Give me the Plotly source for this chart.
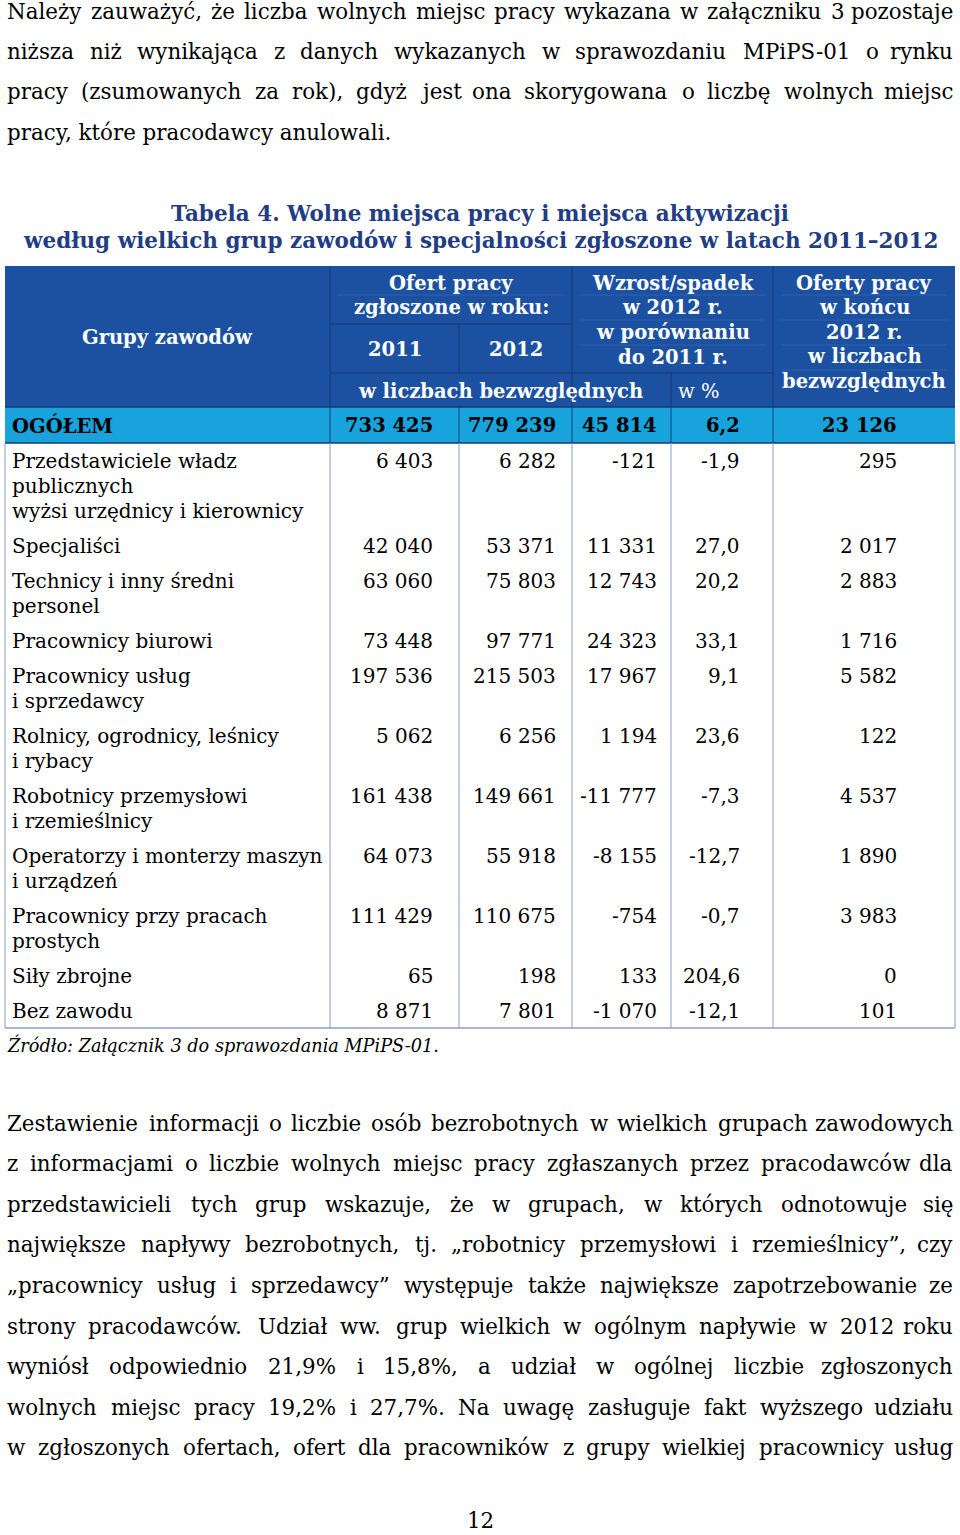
import plotly.graph_objects as go

# ---- data -------------------------------------------------------------
groups = [
    "Przedstawiciele władz<br>publicznych<br>wyżsi urzędnicy i kierownicy",
    "Specjaliści",
    "Technicy i inny średni<br>personel",
    "Pracownicy biurowi",
    "Pracownicy usług<br>i sprzedawcy",
    "Rolnicy, ogrodnicy, leśnicy<br>i rybacy",
    "Robotnicy przemysłowi<br>i rzemieślnicy",
    "Operatorzy i monterzy maszyn<br>i urządzeń",
    "Pracownicy przy pracach<br>prostych",
    "Siły zbrojne",
    "Bez zawodu",
]
offers_2011 = [6403, 42040, 63060, 73448, 197536, 5062, 161438, 64073, 111429, 65, 8871]
offers_2012 = [6282, 53371, 75803, 97771, 215503, 6256, 149661, 55918, 110675, 198, 7801]
change_abs = [-121, 11331, 12743, 24323, 17967, 1194, -11777, -8155, -754, 133, -1070]
change_pct = [-1.9, 27.0, 20.2, 33.1, 9.1, 23.6, -7.3, -12.7, -0.7, 204.6, -12.1]
offers_end_2012 = [295, 2017, 2883, 1716, 5582, 122, 4537, 1890, 3983, 0, 101]

total_label = "OGÓŁEM"
total_values = [733425, 779239, 45814, 6.2, 23126]

title_lines = [
    "Tabela 4. Wolne miejsca pracy i miejsca aktywizacji",
    "według wielkich grup zawodów i specjalności zgłoszone w latach 2011–2012",
]
source_note = "Źródło: Załącznik 3 do sprawozdania MPiPS-01."

para_top = [
    "Należy zauważyć, że liczba wolnych miejsc pracy wykazana w załączniku 3 pozostaje",
    "niższa niż wynikająca z danych wykazanych w sprawozdaniu MPiPS-01 o rynku",
    "pracy (zsumowanych za rok), gdyż jest ona skorygowana o liczbę wolnych miejsc",
    "pracy, które pracodawcy anulowali.",
]
para_bottom = [
    "Zestawienie informacji o liczbie osób bezrobotnych w wielkich grupach zawodowych",
    "z informacjami o liczbie wolnych miejsc pracy zgłaszanych przez pracodawców dla",
    "przedstawicieli tych grup wskazuje, że w grupach, w których odnotowuje się",
    "największe napływy bezrobotnych, tj. „robotnicy przemysłowi i rzemieślnicy”, czy",
    "„pracownicy usług i sprzedawcy” występuje także największe zapotrzebowanie ze",
    "strony pracodawców. Udział ww. grup wielkich w ogólnym napływie w 2012 roku",
    "wyniósł odpowiednio 21,9% i 15,8%, a udział w ogólnej liczbie zgłoszonych",
    "wolnych miejsc pracy 19,2% i 27,7%. Na uwagę zasługuje fakt wyższego udziału",
    "w zgłoszonych ofertach, ofert dla pracowników z grupy wielkiej pracownicy usług",
]
page_number = "12"

# ---- style / geometry ---------------------------------------------------
W, H = 960, 1535
FONT = "DejaVu Serif"
HEAD_BG = "#1b51a0"
HEAD_LINE = "#163a74"
HEAD_FAINT = "#2c62b0"
TOTAL_BG = "#19a3dc"
BODY_LINE = "#8a9cc0"
TITLE_COLOR = "#223d84"

cols = [5, 330, 459, 572, 671, 773, 955]
right_edges = [435, 558, 659, 742, 899]
y_head, y_mid1, y_mid2, y_total, y_body = 266, 324, 373, 407, 443
line_h = 25
TXT, HDR, PAR = 20, 19.5, 21.4

# rough advance widths of DejaVu Serif (em), used to justify paragraphs
_w = dict(a=.596, b=.640, c=.560, d=.640, e=.592, f=.370, g=.640, h=.644, i=.320,
          j=.310, k=.606, l=.320, m=.948, n=.644, o=.602, p=.640, q=.640, r=.478,
          s=.513, t=.402, u=.644, v=.565, w=.856, x=.564, y=.565, z=.527,
          A=.722, B=.735, C=.765, D=.802, E=.730, F=.694, G=.799, H=.872, I=.395,
          J=.401, K=.747, L=.664, M=1.024, N=.875, O=.820, P=.673, Q=.820, R=.753,
          S=.685, T=.667, U=.843, V=.722, W=1.028, X=.712, Y=.660, Z=.695)
_w.update({ch: .636 for ch in "0123456789"})
_w.update({",": .318, ".": .318, "(": .390, ")": .390, "%": .950, "„": .518,
           "”": .518, "-": .338, ":": .337, ";": .337, " ": .318})
_base = str.maketrans("ąćęłńóśźżĄĆĘŁŃÓŚŹŻ", "acelnoszzACELNOSZZ")


def est_width(s, size):
    return sum(_w.get(ch, .6) for ch in s.translate(_base)) * size * 1.01


def fmt_int(v):
    s = f"{abs(v):,}".replace(",", " ")
    return ("-" if v < 0 else "") + s


def fmt_pct(v):
    return f"{v:.1f}".replace(".", ",")


fig = go.Figure()
shapes = []
ann = []


def text(x, y, s, size=TXT, color="black", anchor="center", bold=False, italic=False,
         yanchor="middle"):
    if bold:
        s = f"<b>{s}</b>"
    if italic:
        s = f"<i>{s}</i>"
    ann.append(dict(x=x, y=y, xref="x", yref="y", text=s, showarrow=False,
                    xanchor=anchor, yanchor=yanchor,
                    font=dict(family=FONT, size=size, color=color)))


def justified(lines, y0, step, last_free):
    left, right = 5, 955
    for i, s in enumerate(lines):
        y = y0 + step * i
        words = s.split(" ")
        if (last_free and i == len(lines) - 1) or len(words) < 2:
            text(left, y, s, PAR, anchor="left")
            continue
        widths = [est_width(wd, PAR) for wd in words]
        gap = (right - left - sum(widths)) / (len(words) - 1)
        x = left
        for k, (wd, wdt) in enumerate(zip(words, widths)):
            if k == len(words) - 1:
                text(right, y, wd, PAR, anchor="right")
            else:
                text(x, y, wd, PAR, anchor="left")
            x += wdt + gap


def hline(x0, x1, y, color, width=1):
    shapes.append(dict(type="line", x0=x0, x1=x1, y0=y, y1=y, xref="x", yref="y",
                       line=dict(color=color, width=width)))


def vline(x, y0, y1, color, width=1):
    shapes.append(dict(type="line", x0=x, x1=x, y0=y0, y1=y1, xref="x", yref="y",
                       line=dict(color=color, width=width)))


def rect(x0, x1, y0, y1, fill):
    shapes.append(dict(type="rect", x0=x0, x1=x1, y0=y0, y1=y1, xref="x", yref="y",
                       fillcolor=fill, line=dict(width=0), layer="below"))


# paragraphs
justified(para_top, 11, 40.4, last_free=True)
justified(para_bottom, 1123, 40.6, last_free=False)
text(480, 1535, page_number, size=PAR, yanchor="bottom")

# title
for i, s in enumerate(title_lines):
    text(480, 213 + 27 * i, s, size=21.5, color=TITLE_COLOR, bold=True)

# header block
rect(cols[0], cols[-1], y_head, y_total, HEAD_BG)
rect(cols[0], cols[-1], y_total, y_body, TOTAL_BG)

# faint lines under each header text line
hline(cols[1] + 8, cols[3] - 8, 295, HEAD_FAINT)
for y in (295, 320, 345):
    hline(cols[3] + 8, cols[5] - 8, y, HEAD_FAINT)
for y in (295, 320, 345, 370):
    hline(cols[5] + 8, cols[6] - 8, y, HEAD_FAINT)

hline(cols[1], cols[3], y_mid1, HEAD_LINE)
hline(cols[1], cols[5], y_mid2, HEAD_LINE)
hline(cols[0], cols[6], y_total, HEAD_LINE, 1.5)
hline(cols[0], cols[6], y_body, HEAD_LINE, 1.5)
vline(cols[1], y_head, y_body, HEAD_LINE)
vline(cols[2], y_mid1, y_mid2, HEAD_LINE)
vline(cols[2], y_total, y_body, HEAD_LINE)
vline(cols[3], y_head, y_body, HEAD_LINE)
vline(cols[4], y_mid2, y_body, HEAD_LINE)
vline(cols[5], y_head, y_body, HEAD_LINE)

text((cols[0] + cols[1]) / 2, 337, "Grupy zawodów", HDR, "white", bold=True)
for i, s in enumerate(["Ofert pracy", "zgłoszone w roku:"]):
    text((cols[1] + cols[3]) / 2, 283 + 24.5 * i, s, HDR, "white", bold=True)
text((cols[1] + cols[2]) / 2, 349, "2011", HDR, "white", bold=True)
text((cols[2] + cols[3]) / 2, 349, "2012", HDR, "white", bold=True)
text((cols[1] + cols[4]) / 2, 391, "w liczbach bezwzględnych", HDR, "white", bold=True)
text(cols[4] + 5, 391, "w %", HDR, "white", anchor="left")
for i, s in enumerate(["Wzrost/spadek", "w 2012 r.", "w porównaniu", "do 2011 r."]):
    text((cols[3] + cols[5]) / 2, 283 + 24.7 * i, s, HDR, "white", bold=True)
for i, s in enumerate(["Oferty pracy", "w końcu", "2012 r.", "w liczbach", "bezwzględnych"]):
    text((cols[5] + cols[6]) / 2, 283 + 24.6 * i, s, HDR, "white", bold=True)

# total row
yc = (y_total + y_body) / 2
text(10, yc, total_label, 19.5, bold=True, anchor="left")
tv = [fmt_int(total_values[0]), fmt_int(total_values[1]), fmt_int(total_values[2]),
      fmt_pct(total_values[3]), fmt_int(total_values[4])]
for s, xr in zip(tv, right_edges):
    text(xr, yc, s, 19.5, bold=True, anchor="right")

# body rows
y = y_body
for i, label in enumerate(groups):
    lines = label.split("<br>")
    h = 10 + line_h * len(lines)
    first = y + 18
    for k, ln in enumerate(lines):
        text(10, first + line_h * k, ln, TXT, anchor="left")
    vals = [fmt_int(offers_2011[i]), fmt_int(offers_2012[i]), fmt_int(change_abs[i]),
            fmt_pct(change_pct[i]), fmt_int(offers_end_2012[i])]
    for s, xr in zip(vals, right_edges):
        text(xr, first, s, TXT, anchor="right")
    y += h
y_end = y

for x in cols:
    vline(x, y_body, y_end, BODY_LINE)
hline(cols[0], cols[-1], y_end, BODY_LINE, 1.5)

text(5, y_end + 17, source_note, 17.7, italic=True, anchor="left")

fig.update_layout(
    width=W, height=H,
    margin=dict(l=0, r=0, t=0, b=0),
    paper_bgcolor="white", plot_bgcolor="white",
    xaxis=dict(range=[0, W], visible=False, fixedrange=True),
    yaxis=dict(range=[H, 0], visible=False, fixedrange=True),
    shapes=shapes, annotations=ann, showlegend=False,
)
# drop the default 8px page margin so the figure fills the window exactly
fig.write_html("out.html", config={"displayModeBar": False},
               post_script="document.body.style.margin='0';document.body.style.overflow='hidden';")
